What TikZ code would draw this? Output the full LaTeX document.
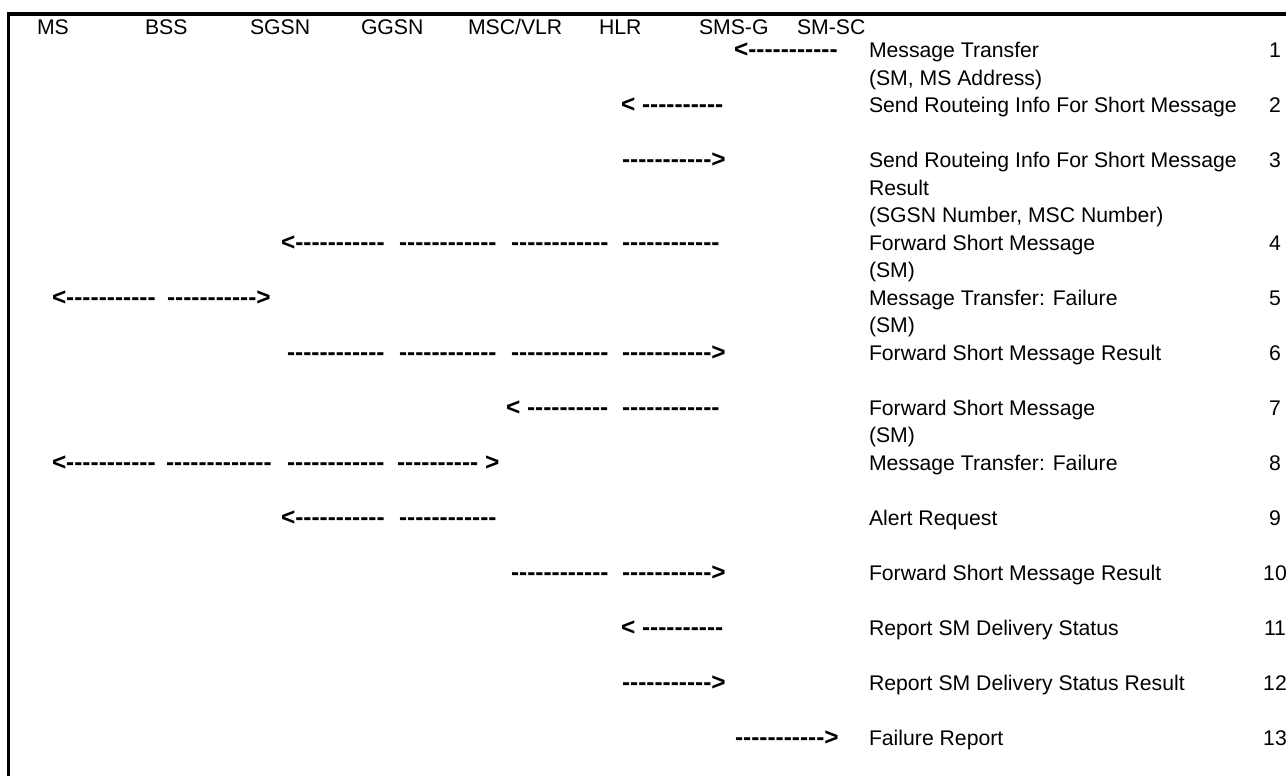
\documentclass[tikz,border=0pt]{standalone}
\usepackage{fontspec}
\setmainfont{Liberation Sans}
\newcount\dashcnt
\newcommand\dashrun[1]{\dashcnt=0 \loop\ifnum\dashcnt<#1 -\kern0pt\advance\dashcnt by 1 \repeat}
\tikzset{
  lbl/.style={anchor=base west, inner sep=0pt, outer sep=0pt, font=\fontsize{21.2}{25}\selectfont},
  num/.style={anchor=base, inner sep=0pt, outer sep=0pt, font=\fontsize{21.2}{25}\selectfont},
  dsh/.style={anchor=base west, inner sep=0pt, outer sep=0pt, font=\fontsize{24.4}{28}\selectfont\bfseries},
  frame/.style={line width=#1, black}
}
\begin{document}
\begin{tikzpicture}[x=1pt,y=-1pt]
\useasboundingbox (0,0) rectangle (1286,776);
% frame
\draw[frame=4pt] (7,14) -- (1286,14);
\draw[frame=3.5pt] (8.5,12) -- (8.5,776);
% header
\node[lbl] (hMS)   at (37,35)  {MS};
\node[lbl] (hBSS)  at (145,35) {BSS};
\node[lbl] (hSGSN) at (250,35) {SGSN};
\node[lbl] (hGGSN) at (361,35) {GGSN};
\node[lbl] (hMSC)  at (468,35) {MSC/VLR};
\node[lbl] (hHLR)  at (599,35) {HLR};
\node[lbl] (hSMSG) at (699,35) {SMS-G};
\node[lbl] (hSMSC) at (797,35) {SM-SC};
% message texts
\node[lbl] (t1a)  at (869,57.5)  {Message Transfer};
\node[lbl] (t1b)  at (869,85)    {(SM, MS Address)};
\node[lbl] (t2a)  at (869,112.5) {Send Routeing Info For Short Message};
\node[lbl] (t3a)  at (869,167.5) {Send Routeing Info For Short Message};
\node[lbl] (t3b)  at (869,195)   {Result};
\node[lbl] (t3c)  at (869,222.5) {(SGSN Number, MSC Number)};
\node[lbl] (t4a)  at (869,250)   {Forward Short Message};
\node[lbl] (t4b)  at (869,277.5) {(SM)};
\node[lbl] (t5a)  at (869,305)   {Message Transfer: Failure};
\node[lbl] (t5b)  at (869,332.5) {(SM)};
\node[lbl] (t6a)  at (869,360)   {Forward Short Message Result};
\node[lbl] (t7a)  at (869,415)   {Forward Short Message};
\node[lbl] (t7b)  at (869,442.5) {(SM)};
\node[lbl] (t8a)  at (869,470)   {Message Transfer: Failure};
\node[lbl] (t9a)  at (869,525)   {Alert Request};
\node[lbl] (t10a) at (869,580)   {Forward Short Message Result};
\node[lbl] (t11a) at (869,635)   {Report SM Delivery Status};
\node[lbl] (t12a) at (869,690)   {Report SM Delivery Status Result};
\node[lbl] (t13a) at (869,745)   {Failure Report};
% step numbers
\node[num] (n1)  at (1275,57.5)  {1};
\node[num] (n2)  at (1275,112.5) {2};
\node[num] (n3)  at (1275,167.5) {3};
\node[num] (n4)  at (1275,250)   {4};
\node[num] (n5)  at (1275,305)   {5};
\node[num] (n6)  at (1275,360)   {6};
\node[num] (n7)  at (1275,415)   {7};
\node[num] (n8)  at (1275,470)   {8};
\node[num] (n9)  at (1275,525)   {9};
\node[num] (n10) at (1275,580)   {10};
\node[num] (n11) at (1275,635)   {11};
\node[num] (n12) at (1275,690)   {12};
\node[num] (n13) at (1275,745)   {13};
% dashed text arrows
% 1
\node[dsh] (a1a) at (734,57.5) {<\dashrun{11}};
% 2
\node[dsh] (a2a) at (621,112.5) {< \dashrun{10}};
% 3
\node[dsh] (a3a) at (622,167.5) {\dashrun{11}>};
% 4
\node[dsh] (a4a) at (281,250) {<\dashrun{11}};
\node[dsh] (a4b) at (399,250) {\dashrun{12}};
\node[dsh] (a4c) at (511,250) {\dashrun{12}};
\node[dsh] (a4d) at (622,250) {\dashrun{12}};
% 5
\node[dsh] (a5a) at (52,305) {<\dashrun{11}};
\node[dsh] (a5b) at (167,305) {\dashrun{11}>};
% 6
\node[dsh] (a6a) at (287,360) {\dashrun{12}};
\node[dsh] (a6b) at (399,360) {\dashrun{12}};
\node[dsh] (a6c) at (511,360) {\dashrun{12}};
\node[dsh] (a6d) at (622,360) {\dashrun{11}>};
% 7
\node[dsh] (a7a) at (506,415) {< \dashrun{10}};
\node[dsh] (a7b) at (622,415) {\dashrun{12}};
% 8
\node[dsh] (a8a) at (52,470) {<\dashrun{11}};
\node[dsh] (a8b) at (166,470) {\dashrun{13}};
\node[dsh] (a8c) at (287,470) {\dashrun{12}};
\node[dsh] (a8d) at (397,470) {\dashrun{10} >};
% 9
\node[dsh] (a9a) at (281,525) {<\dashrun{11}};
\node[dsh] (a9b) at (399,525) {\dashrun{12}};
% 10
\node[dsh] (a10a) at (511,580) {\dashrun{12}};
\node[dsh] (a10b) at (622,580) {\dashrun{11}>};
% 11
\node[dsh] (a11a) at (621,635) {< \dashrun{10}};
% 12
\node[dsh] (a12a) at (622,690) {\dashrun{11}>};
% 13
\node[dsh] (a13a) at (735,745) {\dashrun{11}>};
\end{tikzpicture}
\end{document}
